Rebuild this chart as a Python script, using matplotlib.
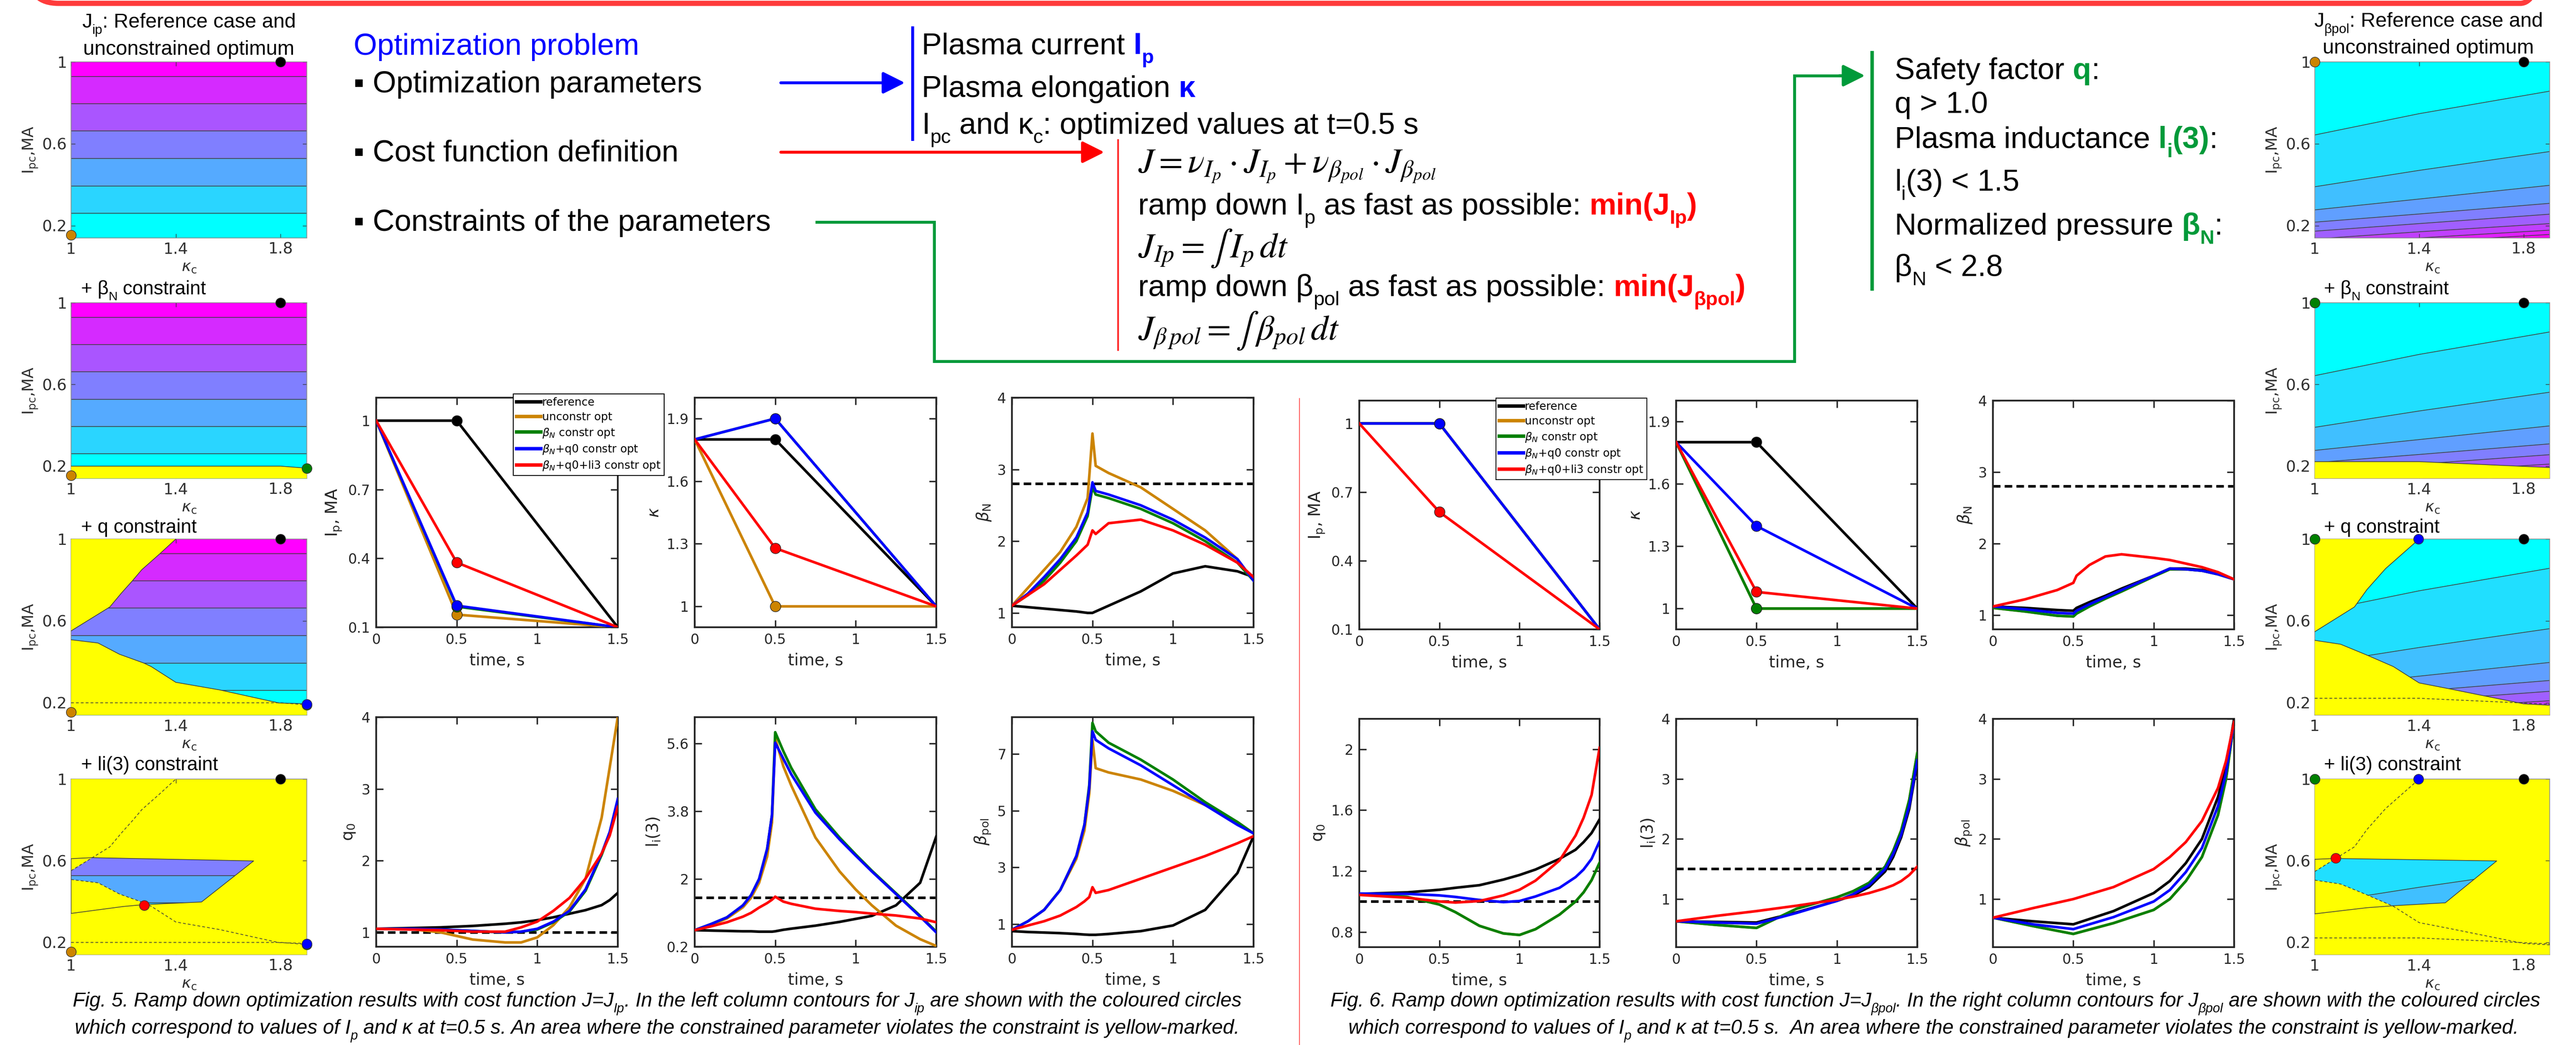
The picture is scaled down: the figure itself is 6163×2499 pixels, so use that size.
import numpy as np
import matplotlib
matplotlib.use("Agg")
import matplotlib.pyplot as plt
from matplotlib.patches import Polygon, FancyBboxPatch

W, H = 6163, 2499
SANS = ["Liberation Sans", "DejaVu Sans"]
plt.rcParams["mathtext.fontset"] = "dejavusans"

# series order: reference, unconstrained, beta_N, beta_N+q0, beta_N+q0+li3
labels = ["reference", "unconstr opt", r"$\beta_N$ constr opt",
          r"$\beta_N$+q0 constr opt", r"$\beta_N$+q0+li3 constr opt"]
colors = ["black", "#CC8400", "#008000", "#0000FF", "#FF0000"]

# ---------------- Fig. 5 (cost J = J_Ip) ----------------
t3 = [0, 0.5, 1.5]
f5_ip = [[1, 1, 0.1], [1, 0.155, 0.1], [1, 0.19, 0.1], [1, 0.194, 0.1], [1, 0.382, 0.1]]
f5_kap = [[1.8, 1.8, 1.0], [1.8, 1.0, 1.0], [1.8, 1.9, 1.0], [1.8, 1.9, 1.0], [1.8, 1.279, 1.0]]

f5_bn_t = [0, 0.1, 0.2, 0.3, 0.4, 0.47, 0.5, 0.52, 0.6, 0.8, 1.0, 1.2, 1.4, 1.5]
f5_bn = [
    [1.1, 1.08, 1.06, 1.04, 1.02, 1.0, 1.0, 1.02, 1.1, 1.3, 1.55, 1.65, 1.58, 1.5],
    [1.1, 1.35, 1.6, 1.85, 2.2, 2.6, 3.5, 3.05, 2.95, 2.75, 2.45, 2.15, 1.75, 1.45],
    [1.1, 1.25, 1.45, 1.7, 2.0, 2.35, 2.75, 2.65, 2.6, 2.45, 2.25, 2.0, 1.7, 1.45],
    [1.1, 1.27, 1.5, 1.75, 2.05, 2.4, 2.82, 2.7, 2.65, 2.5, 2.3, 2.05, 1.75, 1.45],
    [1.1, 1.25, 1.4, 1.6, 1.8, 1.95, 2.15, 2.1, 2.25, 2.3, 2.15, 1.95, 1.7, 1.5],
]
f5_q_t = [0, 0.2, 0.4, 0.6, 0.8, 0.9, 1.0, 1.1, 1.2, 1.3, 1.4, 1.45, 1.5]
f5_q = [
    [1.05, 1.06, 1.07, 1.09, 1.12, 1.14, 1.17, 1.21, 1.26, 1.31, 1.38, 1.45, 1.55],
    [1.05, 1.05, 1.0, 0.9, 0.86, 0.86, 0.93, 1.1, 1.35, 1.75, 2.6, 3.3, 4.0],
    [1.05, 1.05, 1.04, 1.02, 1.0, 1.01, 1.04, 1.14, 1.29, 1.58, 2.08, 2.38, 2.82],
    [1.05, 1.05, 1.04, 1.02, 1.0, 1.01, 1.05, 1.15, 1.3, 1.6, 2.1, 2.4, 2.86],
    [1.05, 1.04, 1.03, 1.01, 1.01, 1.07, 1.15, 1.3, 1.48, 1.75, 2.1, 2.35, 2.75],
]
f5_li_t = [0, 0.1, 0.2, 0.3, 0.35, 0.4, 0.45, 0.48, 0.5, 0.55, 0.6, 0.75, 0.9, 1.0, 1.1, 1.25, 1.4, 1.5]
f5_li = [
    [0.64, 0.63, 0.62, 0.61, 0.61, 0.6, 0.6, 0.6, 0.61, 0.65, 0.68, 0.76, 0.86, 0.94, 1.02, 1.3, 1.9, 3.13],
    [0.64, 0.78, 0.95, 1.25, 1.5, 1.9, 2.6, 3.5, 5.75, 5.0, 4.48, 3.1, 2.2, 1.72, 1.3, 0.76, 0.4, 0.22],
    [0.64, 0.8, 0.98, 1.3, 1.57, 2.0, 2.8, 3.7, 5.9, 5.4, 4.95, 3.85, 3.1, 2.65, 2.22, 1.62, 1.02, 0.6],
    [0.64, 0.8, 0.98, 1.3, 1.57, 2.0, 2.8, 3.7, 5.62, 5.2, 4.78, 3.76, 3.05, 2.62, 2.2, 1.6, 1.0, 0.58],
    [0.64, 0.74, 0.85, 1.0, 1.1, 1.24, 1.36, 1.45, 1.53, 1.4, 1.34, 1.21, 1.15, 1.12, 1.08, 1.03, 0.95, 0.85],
]
f5_bp_t = [0, 0.1, 0.2, 0.3, 0.4, 0.45, 0.48, 0.5, 0.52, 0.6, 0.8, 1.0, 1.2, 1.4, 1.5]
f5_bp = [
    [0.75, 0.72, 0.7, 0.68, 0.65, 0.63, 0.62, 0.62, 0.62, 0.65, 0.75, 0.95, 1.5, 2.8, 4.1],
    [0.8, 1.1, 1.5, 2.2, 3.3, 4.3, 5.6, 7.5, 6.5, 6.35, 6.1, 5.7, 5.2, 4.6, 4.2],
    [0.8, 1.1, 1.5, 2.2, 3.4, 4.5, 5.9, 8.1, 7.8, 7.4, 6.8, 6.1, 5.3, 4.6, 4.2],
    [0.8, 1.1, 1.5, 2.2, 3.4, 4.5, 5.8, 7.8, 7.5, 7.2, 6.6, 5.9, 5.2, 4.5, 4.2],
    [0.8, 0.95, 1.1, 1.3, 1.6, 1.8, 1.95, 2.3, 2.1, 2.2, 2.6, 3.0, 3.4, 3.85, 4.1],
]

# ---------------- Fig. 6 (cost J = J_beta_pol) ----------------
f6_ip = [[1, 1, 0.1], [1, 1, 0.1], [1, 1, 0.1], [1, 1, 0.1], [1, 0.613, 0.1]]
f6_kap = [[1.8, 1.8, 1.0], [1.8, 1.0, 1.0], [1.8, 1.0, 1.0], [1.8, 1.397, 1.0], [1.8, 1.08, 1.0]]

f6_bn_t = [0, 0.2, 0.4, 0.5, 0.52, 0.6, 0.7, 0.8, 1.0, 1.1, 1.2, 1.3, 1.4, 1.5]
f6_bn = [
    [1.12, 1.1, 1.07, 1.06, 1.1, 1.18, 1.27, 1.37, 1.55, 1.65, 1.65, 1.63, 1.58, 1.5],
    [1.1, 1.05, 0.99, 0.98, 1.02, 1.12, 1.23, 1.33, 1.54, 1.64, 1.64, 1.62, 1.57, 1.5],
    [1.1, 1.05, 0.99, 0.98, 1.02, 1.12, 1.23, 1.33, 1.54, 1.64, 1.64, 1.62, 1.57, 1.5],
    [1.12, 1.08, 1.03, 1.02, 1.06, 1.15, 1.25, 1.35, 1.55, 1.65, 1.64, 1.62, 1.57, 1.5],
    [1.12, 1.22, 1.35, 1.45, 1.55, 1.7, 1.82, 1.85, 1.8, 1.77, 1.72, 1.67, 1.6, 1.5],
]
f6_q_t = [0, 0.3, 0.5, 0.6, 0.75, 0.9, 1.0, 1.1, 1.25, 1.35, 1.4, 1.45, 1.5]
f6_q = [
    [1.05, 1.06, 1.077, 1.09, 1.107, 1.144, 1.174, 1.21, 1.28, 1.34, 1.39, 1.45, 1.54],
    [1.05, 1.03, 0.98, 0.93, 0.84, 0.79, 0.78, 0.818, 0.914, 1.0, 1.06, 1.14, 1.255],
    [1.05, 1.03, 0.98, 0.93, 0.84, 0.79, 0.78, 0.818, 0.914, 1.0, 1.06, 1.14, 1.255],
    [1.052, 1.05, 1.04, 1.03, 1.01, 0.996, 1.003, 1.033, 1.09, 1.16, 1.21, 1.28, 1.396],
    [1.043, 1.025, 1.0, 0.993, 1.003, 1.04, 1.077, 1.137, 1.27, 1.433, 1.55, 1.7, 2.01],
]
f6_li_t = [0, 0.25, 0.5, 0.75, 1.0, 1.1, 1.2, 1.3, 1.35, 1.4, 1.45, 1.5]
f6_li = [
    [0.63, 0.62, 0.61, 0.78, 0.97, 1.06, 1.2, 1.46, 1.7, 2.03, 2.5, 3.27],
    [0.63, 0.57, 0.52, 0.84, 1.03, 1.13, 1.27, 1.54, 1.8, 2.14, 2.65, 3.43],
    [0.63, 0.57, 0.52, 0.84, 1.03, 1.13, 1.27, 1.54, 1.8, 2.14, 2.65, 3.43],
    [0.63, 0.61, 0.59, 0.77, 0.97, 1.08, 1.23, 1.5, 1.75, 2.07, 2.55, 3.31],
    [0.63, 0.72, 0.8, 0.89, 0.99, 1.04, 1.1, 1.18, 1.23, 1.3, 1.4, 1.54],
]
f6_bp_t = [0, 0.25, 0.5, 0.75, 1.0, 1.1, 1.2, 1.3, 1.4, 1.45, 1.5]
f6_bp = [
    [0.69, 0.63, 0.58, 0.8, 1.1, 1.3, 1.6, 2.0, 2.7, 3.2, 4.0],
    [0.69, 0.55, 0.42, 0.6, 0.82, 1.0, 1.3, 1.7, 2.4, 3.0, 3.95],
    [0.69, 0.55, 0.42, 0.6, 0.82, 1.0, 1.3, 1.7, 2.4, 3.0, 3.95],
    [0.69, 0.58, 0.5, 0.7, 0.96, 1.15, 1.45, 1.85, 2.55, 3.1, 3.95],
    [0.69, 0.85, 1.0, 1.2, 1.5, 1.7, 1.95, 2.3, 2.85, 3.3, 3.95],
]

# ---------------- contour maps (I_pc vs kappa_c) ----------------
jip_k = [1.0, 1.9]
jip_levels = [0.261, 0.394, 0.528, 0.662, 0.795, 0.928]
jbp_k = [1.0, 1.4, 1.9]
jbp_lines = [  # top to bottom
    [0.643, 0.747, 0.857], [0.39, 0.47, 0.562], [0.277, 0.33, 0.397],
    [0.217, 0.257, 0.309], [0.173, 0.21, 0.256], [0.135, 0.17, 0.21],
    [0.10, 0.14, 0.178], [0.08, 0.12, 0.157],
]
# constraint boundaries, Fig. 5
l_bn_k, l_bn_i = [1, 1.4, 1.8, 1.9], [0.2, 0.2, 0.2, 0.19]
l_qup_k = [1, 1.148, 1.193, 1.233, 1.27, 1.339, 1.4]
l_qup_i = [0.551, 0.668, 0.737, 0.794, 0.85, 0.928, 1.0]
l_qlo_k = [1, 1.103, 1.185, 1.278, 1.306, 1.4, 1.567, 1.794, 1.9]
l_qlo_i = [0.508, 0.492, 0.437, 0.394, 0.377, 0.30, 0.263, 0.199, 0.195]
l_li_k = [1, 1.2, 1.278, 1.498, 1.697, 1.079, 1]
l_li_i = [0.342, 0.376, 0.385, 0.398, 0.599, 0.615, 0.61]
# constraint boundaries, Fig. 6
r_bn_k, r_bn_i = [1, 1.4, 1.9], [0.222, 0.222, 0.193]
r_qup_k = [1, 1.152, 1.2, 1.271, 1.4]
r_qup_i = [0.547, 0.668, 0.753, 0.855, 1.0]
r_qlo_k = [1, 1.099, 1.2, 1.301, 1.4, 1.517, 1.8, 1.9]
r_qlo_i = [0.505, 0.486, 0.433, 0.377, 0.297, 0.268, 0.195, 0.188]
r_li_k = [1, 1.2, 1.306, 1.5, 1.697, 1.077, 1]
r_li_i = [0.34, 0.37, 0.38, 0.394, 0.599, 0.611, 0.607]

c_xticks = [1, 1.4, 1.8]
c_yticks = [0.2, 0.6, 1]

fig = plt.figure(figsize=(W / 100, H / 100), dpi=100)
fig.patch.set_facecolor("white")
ren = fig.canvas.get_renderer()


def rect(x0, y0, x1, y1):
    return [x0 / W, 1 - y1 / H, (x1 - x0) / W, (y1 - y0) / H]


ax0 = fig.add_axes([0, 0, 1, 1], zorder=0)
ax0.set_xlim(0, W)
ax0.set_ylim(H, 0)
ax0.axis("off")


def advance(s, fs, weight, style):
    kw = dict(fontsize=fs, fontweight=weight, fontstyle=style, family=SANS)
    a = ax0.text(0, 0, "x" + s + "x", **kw)
    b = ax0.text(0, 0, "xx", **kw)
    w = a.get_window_extent(ren).width - b.get_window_extent(ren).width
    a.remove()
    b.remove()
    return w


def rich(x, y, pieces, size, ha="left", style="normal"):
    # pieces: (text, colour, bold, subscript)
    objs, cx = [], x
    for s, col, bold, sub in pieces:
        fs = size * 0.65 if sub else size
        dy = size * 0.30 * 100 / 72 if sub else 0
        wt = "bold" if bold else "normal"
        t = ax0.text(cx, y + dy, s, fontsize=fs, color=col, fontweight=wt,
                     fontstyle=style, family=SANS, va="baseline", ha="left")
        objs.append(t)
        cx += advance(s, fs, wt, style)
    if ha == "center":
        shift = (cx - x) / 2
        for t in objs:
            t.set_x(t.get_position()[0] - shift)


def N(s, c="black"):
    return (s, c, False, False)


def B(s, c):
    return (s, c, True, False)


def S(s, c="black", bold=False):
    return (s, c, bold, True)


# ---------------- header / diagram ----------------
ax0.add_patch(FancyBboxPatch((70, -400), 6030, 408, boxstyle="round,pad=0,rounding_size=70",
                             ec="#FF3B3B", fc="none", lw=9))
BIG = 52
BL, RD, GR = "#0000FF", "#FF0000", "#009A3A"
rich(846, 131, [N("Optimization problem", BL)], BIG)
rich(846, 221, [N("\u25aa Optimization parameters")], BIG)
rich(846, 386, [N("\u25aa Cost function definition")], BIG)
rich(846, 552, [N("\u25aa Constraints of the parameters")], BIG)

arr = dict(arrowstyle="-|>,head_length=1.6,head_width=0.8", mutation_scale=20, shrinkA=0, shrinkB=0)
ax0.annotate("", xy=(2165, 198), xytext=(1868, 198), arrowprops=dict(color=BL, lw=5, **arr))
ax0.annotate("", xy=(2642, 364), xytext=(1868, 364), arrowprops=dict(color=RD, lw=5, **arr))
ax0.plot([1954, 2235, 2235, 4293, 4293, 4410], [531, 531, 864, 864, 181, 181], color=GR, lw=5,
         solid_joinstyle="miter")
ax0.annotate("", xy=(4462, 181), xytext=(4400, 181), arrowprops=dict(color=GR, lw=5, **arr))

ax0.plot([2183, 2183], [66, 333], color=BL, lw=5)
ax0.plot([2675, 2675], [335, 837], color="#FF2A2A", lw=3)
ax0.plot([4479, 4479], [126, 691], color=GR, lw=6)
ax0.plot([3109, 3109], [953, 2499], color="#FF5A5A", lw=1.5)

rich(2205, 129, [N("Plasma current "), B("I", BL), S("p", BL, True)], BIG)
rich(2205, 232, [N("Plasma elongation "), B("\u03ba", BL)], BIG)
rich(2205, 320, [N("I"), S("pc"), N(" and \u03ba"), S("c"), N(": optimized values at t=0.5 s")], BIG)

FML = 60
ax0.text(2723, 412, r"$J=\nu_{I_p}\cdot J_{I_p}+\nu_{\beta_{pol}}\cdot J_{\beta_{pol}}$",
         fontsize=FML, math_fontfamily="stix", va="baseline")
rich(2723, 513, [N("ramp down I"), S("p"), N(" as fast as possible: "), B("min(J", RD),
                 S("Ip", RD, True), B(")", RD)], BIG)
ax0.text(2723, 615, r"$J_{Ip}=\int\, I_p\, dt$", fontsize=FML, math_fontfamily="stix", va="baseline")
rich(2723, 708, [N("ramp down \u03b2"), S("pol"), N(" as fast as possible: "), B("min(J", RD),
                 S("\u03b2pol", RD, True), B(")", RD)], BIG)
ax0.text(2723, 812, r"$J_{\beta\,pol}=\int\, \beta_{pol}\, dt$", fontsize=FML, math_fontfamily="stix",
         va="baseline")

rich(4533, 189, [N("Safety factor "), B("q", GR), N(":")], BIG)
rich(4533, 270, [N("q > 1.0")], BIG)
rich(4533, 354, [N("Plasma inductance "), B("l", GR), S("i", GR, True), B("(3)", GR), N(":")], BIG)
rich(4533, 456, [N("l"), S("i"), N("(3) < 1.5")], BIG)
rich(4533, 561, [N("Normalized pressure "), B("\u03b2", GR), S("N", GR, True), N(":")], BIG)
rich(4533, 660, [N("\u03b2"), S("N"), N(" < 2.8")], BIG)

# ---------------- captions ----------------
CAP = 34.5
rich(1572, 2407, [N("Fig. 5. Ramp down optimization results with cost function J=J"), S("Ip"),
                  N(". In the left column contours for J"), S("ip"),
                  N(" are shown with the coloured circles")], CAP, ha="center", style="italic")
rich(1572, 2472, [N("which correspond to values of I"), S("p"),
                  N(" and \u03ba at t=0.5 s. An area where the constrained parameter violates the "
                    "constraint is yellow-marked.")], CAP, ha="center", style="italic")
rich(4630, 2407, [N("Fig. 6. Ramp down optimization results with cost function J=J"), S("\u03b2pol"),
                  N(". In the right column contours for J"), S("\u03b2pol"),
                  N(" are shown with the coloured circles")], CAP, ha="center", style="italic")
rich(4626, 2472, [N("which correspond to values of I"), S("p"),
                  N(" and \u03ba at t=0.5 s.  An area where the constrained parameter violates the "
                    "constraint is yellow-marked.")], CAP, ha="center", style="italic")

# ---------------- line plots ----------------
TXT = "#262626"


def line_panel(box, t, vals, ylim, yticks, ylabel, limit=None, dots=False):
    ax = fig.add_axes(rect(*box))
    for v, c in zip(vals, colors):
        ax.plot(t, v, color=c, lw=4.5, zorder=3)
    if dots:
        for v, c in zip(vals, colors):
            ax.plot(t[1], v[1], "o", ms=18, mfc=c, mec="#222222", mew=1, zorder=4, clip_on=False)
    if limit is not None:
        ax.axhline(limit, color="black", lw=4.5, ls=(0, (2.9, 1.6)), zorder=2)
    ax.set_xlim(0, 1.5)
    ax.set_ylim(*ylim)
    ax.set_xticks([0, 0.5, 1, 1.5])
    ax.set_xticklabels(["0", "0.5", "1", "1.5"])
    ax.set_yticks(yticks)
    ax.set_yticklabels([f"{v:g}" for v in yticks])
    ax.set_xlabel("time, s", fontsize=28, color=TXT, labelpad=10)
    ax.set_ylabel(ylabel, fontsize=28, color=TXT, labelpad=8)
    ax.tick_params(direction="in", length=12, width=2.5, top=True, right=True, labelsize=24,
                   colors=TXT, pad=10)
    for s in ax.spines.values():
        s.set_linewidth(3)
        s.set_color(TXT)
    return ax


def legend_at(ax, x, y):
    leg = fig.legend(ax.get_lines()[:5], labels, loc="upper left", bbox_to_anchor=(x / W, 1 - y / H),
                     bbox_transform=fig.transFigure, fontsize=19, handlelength=2.2, handletextpad=0.1,
                     labelspacing=0.35, borderpad=0.3, fancybox=False, framealpha=1, edgecolor="black")
    leg.get_frame().set_linewidth(1.5)
    for ln in leg.get_lines():
        ln.set_linewidth(6)


ylab_ip, ylab_k, ylab_bn = r"I$_{\rm p}$, MA", r"$\kappa$", r"$\beta_{\rm N}$"
ylab_q, ylab_li, ylab_bp = r"q$_{\rm 0}$", r"l$_{\rm i}$(3)", r"$\beta_{\rm pol}$"

r1a, r1b = (951, 1500), (958, 1505)
r2a, r2b = (1715, 2264), (1719, 2265)
ax = line_panel((900, r1a[0], 1478, r1a[1]), t3, f5_ip, (0.1, 1.1), [0.1, 0.4, 0.7, 1], ylab_ip, dots=True)
legend_at(ax, 1215, 929)
line_panel((1662, r1a[0], 2240, r1a[1]), t3, f5_kap, (0.9, 2.0), [1, 1.3, 1.6, 1.9], ylab_k, dots=True)
line_panel((2421, r1a[0], 2999, r1a[1]), f5_bn_t, f5_bn, (0.8, 4), [1, 2, 3, 4], ylab_bn, limit=2.8)
line_panel((900, r2a[0], 1478, r2a[1]), f5_q_t, f5_q, (0.8, 4), [1, 2, 3, 4], ylab_q, limit=1.0)
line_panel((1662, r2a[0], 2240, r2a[1]), f5_li_t, f5_li, (0.2, 6.3), [0.2, 2, 3.8, 5.6], ylab_li, limit=1.5)
line_panel((2421, r2a[0], 2999, r2a[1]), f5_bp_t, f5_bp, (0.2, 8.3), [1, 3, 5, 7], ylab_bp)

ax = line_panel((3252, r1b[0], 3827, r1b[1]), t3, f6_ip, (0.1, 1.1), [0.1, 0.4, 0.7, 1], ylab_ip, dots=True)
legend_at(ax, 3566, 939)
line_panel((4010, r1b[0], 4587, r1b[1]), t3, f6_kap, (0.9, 2.0), [1, 1.3, 1.6, 1.9], ylab_k, dots=True)
line_panel((4768, r1b[0], 5345, r1b[1]), f6_bn_t, f6_bn, (0.8, 4), [1, 2, 3, 4], ylab_bn, limit=2.8)
line_panel((3252, r2b[0], 3827, r2b[1]), f6_q_t, f6_q, (0.7, 2.2), [0.8, 1.2, 1.6, 2], ylab_q, limit=1.0)
line_panel((4010, r2b[0], 4587, r2b[1]), f6_li_t, f6_li, (0.2, 4), [1, 2, 3, 4], ylab_li, limit=1.5)
line_panel((4768, r2b[0], 5345, r2b[1]), f6_bp_t, f6_bp, (0.2, 4), [1, 2, 3, 4], ylab_bp)

# ---------------- contour panels ----------------
YEL = "#FFFF00"
EDGE = "#3c3c3c"


def contour_axes(box):
    ax = fig.add_axes(rect(*box))
    ax.set_xlim(1, 1.9)
    ax.set_ylim(0.14, 1.0)
    ax.set_xticks(c_xticks)
    ax.set_xticklabels([f"{v:g}" for v in c_xticks])
    ax.set_yticks(c_yticks)
    ax.set_yticklabels([f"{v:g}" for v in c_yticks])
    ax.tick_params(direction="in", length=7, width=1, top=True, right=True, labelsize=27,
                   colors="#303030", pad=7)
    for s in ax.spines.values():
        s.set_linewidth(1.2)
        s.set_color("#8a8a8a")
    ax.set_xlabel(r"$\kappa_{\rm c}$", fontsize=27, color="#303030", labelpad=4)
    ax.set_ylabel(r"I$_{\rm pc}$,MA", fontsize=27, color="#303030", labelpad=4)
    return ax


def bands(ax, k, bounds, cols, clip=None):
    for lo, hi, c in zip(bounds[:-1], bounds[1:], cols):
        pc = ax.fill_between(k, lo, hi, color=c, lw=0, zorder=1)
        if clip is not None:
            pc.set_clip_path(clip)
    for ln in bounds[1:-1]:
        l, = ax.plot(k, ln, color=EDGE, lw=1.2, zorder=2)
        if clip is not None:
            l.set_clip_path(clip)


def yellow_above(ax, k, i):
    ax.fill(list(k) + [k[0]], list(i) + [1.2], color=YEL, lw=0, zorder=3)


def yellow_below(ax, k, i):
    ax.fill(list(k) + [k[-1], k[0]], list(i) + [0.0, 0.0], color=YEL, lw=0, zorder=3)


def edge(ax, k, i, dashed=False, closed=False):
    k, i = list(k), list(i)
    if closed:
        k, i = k + k[:1], i + i[:1]
    ax.plot(k, i, color=EDGE, lw=1.2, ls=(0, (4, 3)) if dashed else "-", zorder=4)


def dots(ax, kap, ip, n):
    for j in range(n):
        ax.plot(kap[j][1], ip[j][1], "o", ms=17, mfc=colors[j], mec="#333333", mew=1,
                zorder=6, clip_on=False)


def column(x0, x1, k_nodes, bnd, cols, bn, qup, qlo, li, kap, ip):
    ys = [(148, 569), (724, 1144), (1289, 1710), (1863, 2283)]
    axs = [contour_axes((x0, a, x1, b)) for a, b in ys]
    bands(axs[0], k_nodes, bnd, cols)
    dots(axs[0], kap, ip, 2)
    # + beta_N
    bands(axs[1], k_nodes, bnd, cols)
    yellow_below(axs[1], *bn)
    edge(axs[1], *bn)
    dots(axs[1], kap, ip, 3)
    # + q
    bands(axs[2], k_nodes, bnd, cols)
    yellow_above(axs[2], *qup)
    yellow_below(axs[2], *qlo)
    edge(axs[2], *qup)
    edge(axs[2], *qlo)
    edge(axs[2], *bn, dashed=True)
    dots(axs[2], kap, ip, 4)
    # + li(3)
    a = axs[3]
    a.set_facecolor(YEL)
    clip = Polygon(np.column_stack(li), closed=True, transform=a.transData)
    bands(a, k_nodes, bnd, cols, clip=clip)
    yellow_above(a, *qup)
    yellow_below(a, *qlo)
    edge(a, *li, closed=True)
    edge(a, *qup, dashed=True)
    edge(a, *qlo, dashed=True)
    edge(a, *bn, dashed=True)
    dots(a, kap, ip, 5)


lb = [[0.0, 0.0]] + [[v, v] for v in jip_levels] + [[1.2, 1.2]]
column(170, 734, jip_k, lb, plt.cm.cool(np.linspace(0, 1, 7)),
       (l_bn_k, l_bn_i), (l_qup_k, l_qup_i), (l_qlo_k, l_qlo_i), (l_li_k, l_li_i), f5_kap, f5_ip)
rb = [[-0.2] * 3] + jbp_lines[::-1] + [[1.2] * 3]
column(5538, 6100, jbp_k, rb, plt.cm.cool(np.linspace(1, 0, 9)),
       (r_bn_k, r_bn_i), (r_qup_k, r_qup_i), (r_qlo_k, r_qlo_i), (r_li_k, r_li_i), f6_kap, f6_ip)

CT = 35
rich(452, 66, [N("J"), S("ip"), N(": Reference case and")], CT, ha="center")
rich(452, 131, [N("unconstrained optimum")], CT, ha="center")
rich(5810, 64, [N("J"), S("\u03b2pol"), N(": Reference case and")], CT, ha="center")
rich(5810, 128, [N("unconstrained optimum")], CT, ha="center")
for xs in (194, 5560):
    rich(xs, 704, [N("+ \u03b2"), S("N"), N(" constraint")], 33)
    rich(xs, 1274, [N("+ q constraint")], 33)
    rich(xs, 1842, [N("+ li(3) constraint")], 33)

fig.savefig("out.png", dpi=100, facecolor="white")
